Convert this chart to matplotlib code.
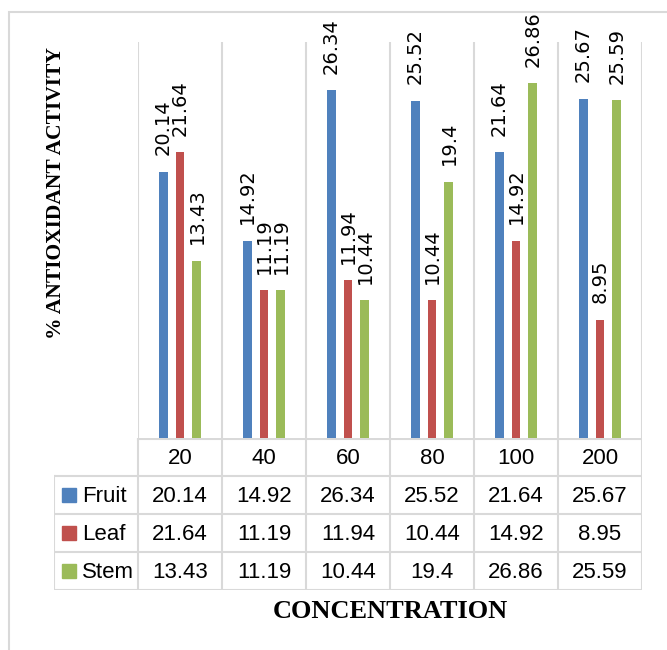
import numpy as np
import matplotlib
matplotlib.use('Agg')
import matplotlib.pyplot as plt
from matplotlib.patches import Rectangle

concentration = ['20', '40', '60', '80', '100', '200']
series_names = ['Fruit', 'Leaf', 'Stem']
fruit = [20.14, 14.92, 26.34, 25.52, 21.64, 25.67]
leaf = [21.64, 11.19, 11.94, 10.44, 14.92, 8.95]
stem = [13.43, 11.19, 10.44, 19.4, 26.86, 25.59]
colors = ['#4F81BD', '#C0504D', '#9BBB59']
grid_col = '#D9D9D9'

W, H = 667, 650
fig = plt.figure(figsize=(W / 100, H / 100), dpi=100)

# pixel box helper -> figure fraction
def box(x0, y0, x1, y1):
    return [x0 / W, 1 - y1 / H, (x1 - x0) / W, (y1 - y0) / H]

# outer chart frame (right and bottom run off the image)
fig.patches.append(Rectangle((9 / W, -0.1), 1.2, 1 - 12 / H + 0.1, transform=fig.transFigure,
                             fill=False, edgecolor=grid_col, linewidth=1.5, clip_on=False))

# plot area
ax = fig.add_axes(box(138, 42, 642, 438))
x = np.arange(len(concentration))
pitch, bw = 0.202, 0.107
data = [fruit, leaf, stem]
for i, vals in enumerate(data):
    xs = x + (i - 1) * pitch
    ax.bar(xs, vals, width=bw, color=colors[i], edgecolor='none', zorder=3)
    for xb, v in zip(xs, vals):
        ax.annotate(f'{v:g}', (xb, v), xytext=(0, 12), textcoords='offset points',
                    rotation=90, ha='center', va='bottom', fontsize=14,
                    family='DejaVu Sans', color='black', annotation_clip=False)

ax.set_xlim(-0.5, len(concentration) - 0.5)
ax.set_ylim(0, 30)
for b in np.arange(-0.5, len(concentration), 1.0):
    ax.axvline(b, color=grid_col, linewidth=1.5, zorder=1)
for s in ax.spines.values():
    s.set_visible(False)
ax.set_xticks([])
ax.set_yticks([])
ax.patch.set_alpha(0)

# data table under the plot
tx0, tx1 = 54, 642
row_h = 38
top = 438
tax = fig.add_axes(box(tx0, top, tx1, top + 4 * row_h))
tax.set_xlim(tx0, tx1)
tax.set_ylim(top + 4 * row_h, top)
tax.axis('off')
col_w = (642 - 138) / len(concentration)
col_edges = [138 + k * col_w for k in range(len(concentration) + 1)]
lw = 1.5
# horizontal rules
tax.plot([138, 642], [top + 1, top + 1], color=grid_col, lw=lw)
for r in range(1, 5):
    tax.plot([tx0, tx1], [top + r * row_h, top + r * row_h], color=grid_col, lw=lw)
# vertical rules
tax.plot([tx0, tx0], [top + row_h, top + 4 * row_h], color=grid_col, lw=lw)
for e in col_edges:
    tax.plot([e, e], [top, top + 4 * row_h], color=grid_col, lw=lw)

tfont = dict(fontsize=16, family='Liberation Sans', color='black')
for k, c in enumerate(concentration):
    cx = 138 + (k + 0.5) * col_w
    tax.text(cx, top + 0.5 * row_h + 1, c, ha='center', va='center', **tfont)
    for r, vals in enumerate(data):
        tax.text(cx, top + (r + 1.5) * row_h + 1, f'{vals[k]:g}', ha='center', va='center', **tfont)

for r, name in enumerate(series_names):
    cy = top + (r + 1.5) * row_h
    tax.add_patch(Rectangle((62, cy - 7), 14, 14, color=colors[r]))
    tax.text(82, cy + 1, name, ha='left', va='center', **tfont)

# axis titles
fig.text(390 / W, 1 - 611 / H, 'CONCENTRATION', ha='center', va='center',
         fontsize=19, family='Liberation Serif', fontweight='bold')
fig.text(56 / W, 1 - 193 / H, '% ANTIOXIDANT ACTIVITY', ha='center', va='center',
         rotation=90, fontsize=15.5, family='Liberation Serif', fontweight='bold')

fig.savefig('out.png', dpi=100)
